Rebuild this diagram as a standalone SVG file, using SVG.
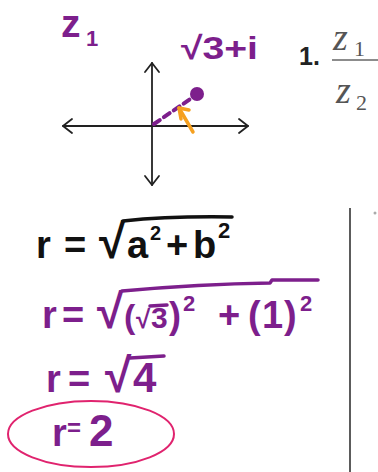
<svg xmlns="http://www.w3.org/2000/svg" width="378" height="472" viewBox="0 0 378 472">
<defs>
<style>
.hand{font-family:"Liberation Sans","DejaVu Sans",sans-serif;font-weight:bold}
.purple{fill:#7d1f8c}
.black{fill:#111}
.ps{stroke:#7d1f8c;fill:none;stroke-width:3.5;stroke-linecap:round;stroke-linejoin:round}
.bs{stroke:#111;fill:none;stroke-width:3.5;stroke-linecap:round;stroke-linejoin:round}
.axis{stroke:#222;fill:none;stroke-width:1.8;stroke-linecap:round;stroke-linejoin:round}
.print{font-family:"Liberation Serif",serif;font-style:italic;fill:#555}
</style>
</defs>
<rect width="378" height="472" fill="#fff"/>

<g id="label-z1">
<text class="hand purple" x="61" y="37" font-size="39">z</text>
<text class="hand purple" x="86" y="46" font-size="22">1</text>
</g>

<g id="label-point">
<text class="hand purple" x="181" y="59" font-size="32" textLength="77" lengthAdjust="spacingAndGlyphs">√3+i</text>
</g>

<g id="axes">
<line class="axis" x1="152" y1="63" x2="152" y2="185"/>
<line class="axis" x1="63" y1="126" x2="248" y2="126"/>
<polyline class="axis" points="145,72 152,63 159,72"/>
<polyline class="axis" points="145,176 152,185 159,176"/>
<polyline class="axis" points="72,119 63,126 72,133"/>
<polyline class="axis" points="239,119 248,126 239,133"/>
</g>

<g id="vector">
<line x1="154" y1="124" x2="196" y2="95" stroke="#7d1f8c" stroke-width="4" stroke-dasharray="7,5" stroke-linecap="round"/>
<circle cx="197" cy="94" r="7" fill="#7d1f8c"/>
</g>

<g id="orange-arrow">
<line x1="193" y1="132" x2="179" y2="108" stroke="#f5a020" stroke-width="3.5" stroke-linecap="round"/>
<polyline points="189,110 179,108 181,119" fill="none" stroke="#f5a020" stroke-width="3.5" stroke-linecap="round" stroke-linejoin="round"/>
</g>

<g id="problem-1">
<text x="299" y="65" font-family="Liberation Sans,sans-serif" font-weight="bold" font-size="25" fill="#222">1.</text>
<text class="print" x="333" y="50" font-size="38">z</text>
<text x="354" y="56" font-family="Liberation Serif,serif" font-size="22" fill="#555">1</text>
<line x1="332" y1="60" x2="378" y2="60" stroke="#666" stroke-width="1.5"/>
<text class="print" x="336" y="103" font-size="38">z</text>
<text x="356" y="110" font-family="Liberation Serif,serif" font-size="22" fill="#555">2</text>
</g>

<g id="line-1">
<text class="hand black" font-size="38" y="258"><tspan x="36">r</tspan><tspan x="64">=</tspan></text>
<text class="hand black" x="99" y="258" font-size="48">√</text>
<text class="hand black" x="127" y="258" font-size="38">a</text>
<text class="hand black" x="150" y="240" font-size="20">2</text>
<text class="hand black" x="166" y="258" font-size="38">+</text>
<text class="hand black" x="193" y="258" font-size="38">b</text>
<text class="hand black" x="218" y="238" font-size="22">2</text>
<path class="bs" d="M123,221 Q170,216 232,217"/>
</g>

<g id="line-2">
<text class="hand purple" font-size="38" y="328"><tspan x="42">r</tspan><tspan x="62">=</tspan></text>
<text class="hand purple" x="97" y="328" font-size="48">√</text>
<text class="hand purple" x="124" y="328" font-size="34">(</text>
<text class="hand purple" x="136" y="328" font-size="26">√</text>
<text class="hand purple" x="151" y="328" font-size="30">3</text>
<text class="hand purple" x="169" y="328" font-size="36">)</text>
<text class="hand purple" x="183" y="311" font-size="22">2</text>
<text class="hand purple" x="218" y="328" font-size="38">+</text>
<text class="hand purple" x="248" y="328" font-size="38">(</text>
<text class="hand purple" x="262" y="328" font-size="38">1</text>
<text class="hand purple" x="284" y="328" font-size="38">)</text>
<text class="hand purple" x="300" y="311" font-size="22">2</text>
<path class="ps" d="M122,291 Q200,284 270,283 L272,280 L318,280"/>
<path class="ps" d="M150,306 L167,305"/>
</g>

<g id="line-3">
<text class="hand purple" font-size="38" y="392"><tspan x="46">r</tspan><tspan x="68">=</tspan></text>
<text class="hand purple" x="105" y="392" font-size="48">√</text>
<text class="hand purple" x="133" y="392" font-size="42">4</text>
<path class="ps" d="M130,358 L164,356"/>
</g>

<g id="line-4">
<text class="hand purple" font-size="38" y="446"><tspan x="52">r</tspan></text>
<text class="hand purple" x="67" y="436" font-size="24">=</text>
<text class="hand purple" x="89" y="446" font-size="44">2</text>
<ellipse cx="91" cy="434" rx="83" ry="33" fill="none" stroke="#e0236e" stroke-width="2"/>
</g>

<g id="divider">
<line x1="350" y1="208" x2="350" y2="472" stroke="#333" stroke-width="1.6"/>
<circle cx="375" cy="213" r="1.5" fill="#aaa"/>
</g>
</svg>
